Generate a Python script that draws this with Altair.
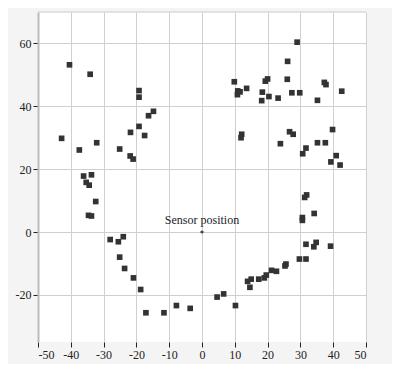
import altair as alt
import pandas as pd

xs = [-40.4, -34.1, -19.2, -19.2, -14.8, -16.3, -19.2, -21.8, -17.5, -42.8, -32.1, -37.4, -25.1, -21.9, -21.0,
      -36.1, -33.7, -35.3, -34.4, -32.4, -34.6, -33.7, -28.0, -25.5, -24.0, -25.1, -23.6, -20.9, -18.7, -17.1,
      -11.6, -7.8, -3.6,
      4.6, 6.6, 10.2, 13.9, 15.0, 14.6, 17.3, 19.0, 19.6, 21.2, 22.7, 25.3, 25.6, 29.7, 31.7,
      31.7, 34.8, 34.1, 39.2, 30.6, 30.6, 34.2, 31.3, 31.9,
      12.1, 11.9, 26.7, 27.8, 23.9, 35.2, 37.6, 31.7, 30.7, 40.9, 39.3, 42.1, 39.8,
      29.0, 26.1, 26.0, 9.85, 19.3, 20.0, 37.3, 37.8, 10.9, 11.6, 10.8, 13.6, 18.4, 20.4, 18.2, 23.2, 27.4,
      29.8, 35.2, 42.6]
ys = [53.2, 50.2, 45.0, 42.9, 38.4, 37.0, 33.6, 31.7, 30.7, 29.8, 28.4, 26.1, 26.4, 24.2, 23.2,
      17.8, 18.2, 15.8, 14.9, 9.7, 5.3, 5.1, -2.4, -3.1, -1.5, -8.0, -11.6, -14.6, -18.3, -25.7,
      -25.7, -23.4, -24.3,
      -20.7, -19.7, -23.4, -15.7, -15.0, -17.6, -15.0, -14.6, -13.7, -12.2, -12.5, -10.8, -10.2, -8.6, -8.6,
      -3.9, -3.3, -4.7, -4.5, 4.6, 3.7, 5.9, 11.0, 11.8,
      31.1, 30.0, 31.9, 31.1, 28.1, 28.4, 28.4, 26.7, 24.9, 24.3, 22.3, 21.3, 32.6,
      60.4, 54.3, 48.6, 47.8, 48.0, 48.7, 47.6, 46.9, 44.9, 44.6, 43.7, 45.7, 44.5, 43.1, 41.8, 42.6, 44.3,
      44.3, 41.9, 44.8]

x_ticks = [-50, -40, -30, -20, -10, 0, 10, 20, 30, 40, 50]
y_ticks = [-20, 0, 20, 40, 60]

sensor_x = [0]
sensor_y = [0]
sensor_label = ["Sensor position"]

df = pd.DataFrame({"x": xs, "y": ys})
sdf = pd.DataFrame({"x": sensor_x, "y": sensor_y, "label": sensor_label})

xscale = alt.Scale(domain=[-50, 50], nice=False, zero=False)
yscale = alt.Scale(domain=[-35, 70], nice=False, zero=False)

FONT = "Liberation Serif"

xaxis = alt.Axis(values=x_ticks, title=None, domain=False, labelOverlap=False,
                 labelExpr="toString(datum.value)",
                 labelFont=FONT, labelFontSize=12, labelColor="#222",
                 tickColor="#222", tickSize=5, labelPadding=2)
yaxis = alt.Axis(values=y_ticks, title=None, domain=True, domainColor="#bbb", domainWidth=2,
                 labelExpr="toString(datum.value)",
                 labelOverlap=False, labelFont=FONT, labelFontSize=12, labelColor="#222",
                 tickColor="#222", tickSize=5, labelPadding=2)

X = alt.X("x:Q", scale=xscale, axis=xaxis)
Y = alt.Y("y:Q", scale=yscale, axis=yaxis)

pts = alt.Chart(df).mark_square(size=32, color="#333", opacity=1).encode(x=X, y=Y)

sensor = alt.Chart(sdf).mark_point(shape="cross", size=10, color="#333", filled=True, opacity=1).encode(
    x=X, y=Y)

label = alt.Chart(sdf).mark_text(font=FONT, fontSize=12, color="#222", baseline="alphabetic",
                                  align="center", dy=-8).encode(x=X, y=Y, text="label:N")

topline = alt.Chart(sdf).mark_rule(color="#ccc", strokeWidth=1).encode(
    x=alt.value(0), x2=alt.value(328), y=alt.value(0)
)

chart = alt.layer(pts, sensor, label, topline).properties(
    width=328, height=330,
    autosize=alt.AutoSizeParams(type="none"),
    padding={"left": 30, "top": 4, "right": 26, "bottom": 22},
    background="#f4f4f4",
).configure(font=FONT).configure_view(fill="white", stroke=None).configure_axis(
    gridColor="#d0d0d0", gridWidth=1, labelFont=FONT, labelOverlap=False, labelFontSize=12,
)

chart.save("out.html", embed_options={"renderer": "svg", "actions": False})
